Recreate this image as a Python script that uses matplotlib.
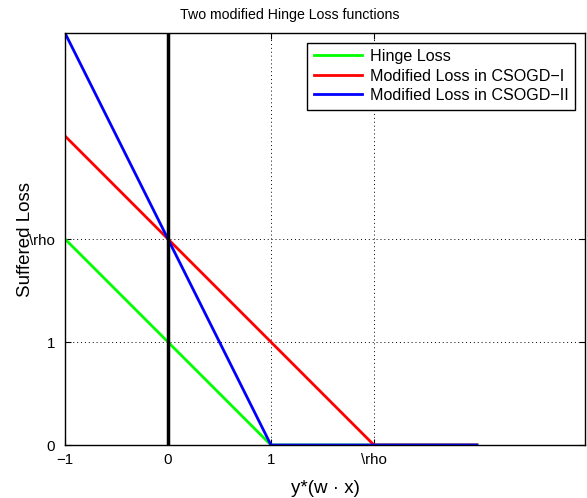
import matplotlib
matplotlib.use("Agg")
import matplotlib.pyplot as plt
import numpy as np

plt.rcParams['font.family'] = ['Liberation Sans', 'DejaVu Sans']

# Data
x_hinge = [-1, 1, 3]
y_hinge = [2, 0, 0]
x_mod1 = [-1, 2, 3]
y_mod1 = [3, 0, 0]
x_mod2 = [-1, 1, 3]
y_mod2 = [4, 0, 0]
xticks = [-1, 0, 1, 2]
xticklabels = ['\u22121', '0', '1', '\\rho']
yticks = [0, 1, 2]
yticklabels = ['0', '1', '\\rho']

fig = plt.figure(figsize=(5.87, 4.98), dpi=100)
ax = fig.add_axes([65/587, 1-445/498, 520/587, 412/498])

ax.plot(x_hinge, y_hinge, color=(0, 1, 0), lw=2, label='Hinge Loss')
ax.plot(x_mod1, y_mod1, color=(1, 0, 0), lw=2, label='Modified Loss in CSOGD\u2212I')
ax.plot(x_mod2, y_mod2, color=(0, 0, 1), lw=2, label='Modified Loss in CSOGD\u2212II')
ax.axvline(0, color='black', lw=2.5)

ax.set_xlim(-1, 4.05)
ax.set_ylim(0, 4)
ax.set_xticks(xticks)
ax.set_xticklabels(xticklabels, fontsize=10.8)
ax.set_yticks(yticks)
ax.set_yticklabels(yticklabels, fontsize=10.8)
ax.tick_params(direction='in', top=True, right=True, length=4)
ax.tick_params(axis='x', pad=6)
ax.tick_params(axis='y', pad=7)
ax.grid(True, linestyle=(0, (1, 3)), color='black', lw=0.7)
ax.set_xlabel('y*(w \u00b7 x)', fontsize=13.5, labelpad=9)
ax.set_ylabel('Suffered Loss', fontsize=13.5, labelpad=-3)
ax.set_title('Two modified Hinge Loss functions', fontsize=10.2,
             x=(290 - 65) / 520, pad=10)
for s in ax.spines.values():
    s.set_linewidth(1)

leg = ax.legend(loc='upper right', fontsize=11.6, fancybox=False, edgecolor='black',
                framealpha=1, borderaxespad=0.6, handlelength=3.0, labelspacing=0.28,
                borderpad=0.4, handletextpad=0.5)
leg.get_frame().set_linewidth(1)

fig.savefig('out.png', dpi=100)
